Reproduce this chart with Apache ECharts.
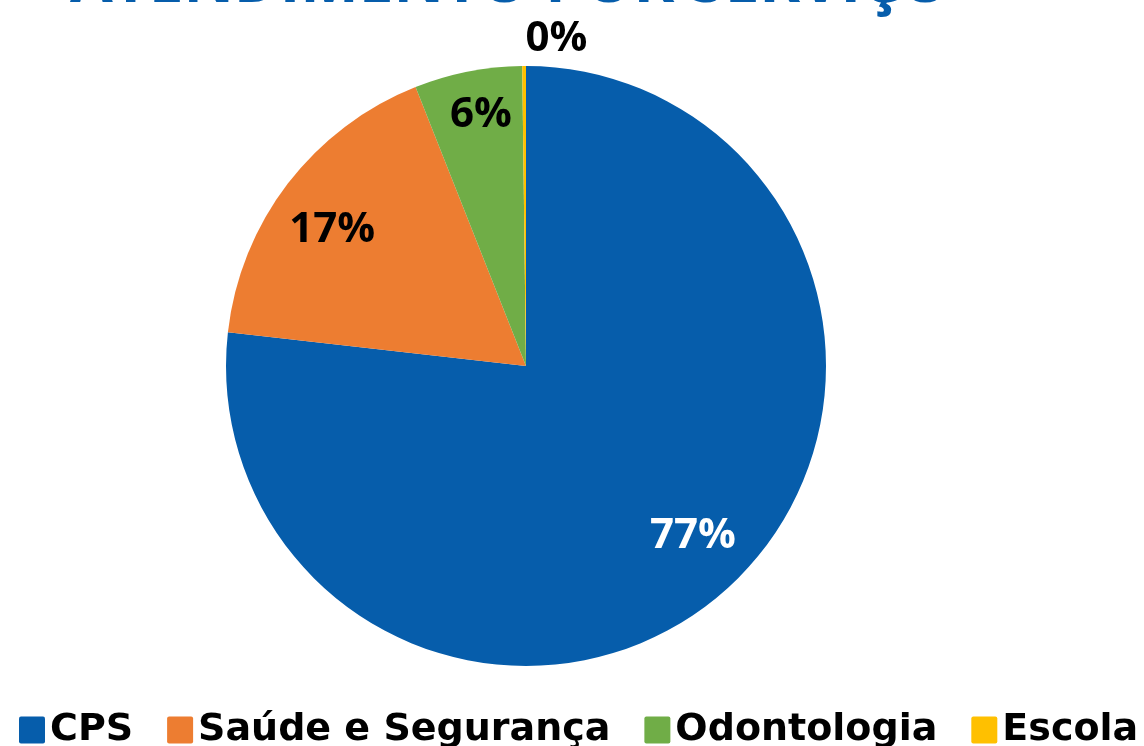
<!DOCTYPE html>
<html><head><meta charset="utf-8">
<script src="https://cdn.jsdelivr.net/npm/echarts@6/dist/echarts.min.js"></script>
<style>html,body{margin:0;padding:0;background:#fff}#c{width:1144px;height:746px}</style>
</head><body><div id="c"></div>
<script>
const titleText = 'ATENDIMENTO POR SERVIÇO';
const categories = ['CPS', 'Saúde e Segurança', 'Odontologia', 'Escola'];
const values = [768, 172, 58, 2];
const colors = ['#065DAB', '#ED7D31', '#70AD47', '#FFC000'];
const labelColors = ['#ffffff', '#000000', '#000000', '#000000'];

const total = values.reduce((a, b) => a + b, 0);
const data = categories.map((c, i) => ({name: c, value: values[i], itemStyle: {color: colors[i]}}));
const labelData = categories.map((c, i) => ({
  name: c, value: values[i],
  itemStyle: {color: 'rgba(0,0,0,0)'},
  label: {color: labelColors[i]}
}));
// small label nudges (layout only)
const labelNudge = [[5, -11], [-1, 12], [2, -13], [32, -84]];
const FONT = '"Open Sans", "DejaVu Sans", sans-serif';
const LFONT = '"DejaVu Sans", sans-serif';
const chart = echarts.init(document.getElementById('c'));
chart.setOption({
  animation: false,
  title: {
    text: titleText, left: 65, top: -52,
    textStyle: {fontFamily: FONT, fontWeight: 'bold', fontSize: 62, color: '#065DAB'}
  },
  legend: {
    data: categories, left: 14, bottom: -8, itemWidth: 26, itemHeight: 27, itemGap: 34,
    icon: 'path://M2,0 L24,0 Q26,0 26,2 L26,25 Q26,27 24,27 L2,27 Q0,27 0,25 L0,2 Q0,0 2,0 Z',
    textStyle: {fontFamily: LFONT, fontWeight: 'bold', fontSize: 38, color: '#000'}
  },
  series: [{
    type: 'pie', center: [526, 366], radius: 300, startAngle: 90, clockwise: true,
    data: data, label: {show: false}, labelLine: {show: false}, silent: true
  }, {
    type: 'pie', center: [526, 366], radius: [180, 300], startAngle: 90, clockwise: true,
    data: labelData, silent: true, labelLine: {show: false},
    label: {
      show: true, position: 'inside', fontFamily: FONT, fontWeight: 'bold', fontSize: 42,
      formatter: p => Math.round(p.value / total * 100) + '%'
    },
    labelLayout: p => ({dx: labelNudge[p.dataIndex][0], dy: labelNudge[p.dataIndex][1]})
  }]
});
</script></body></html>
